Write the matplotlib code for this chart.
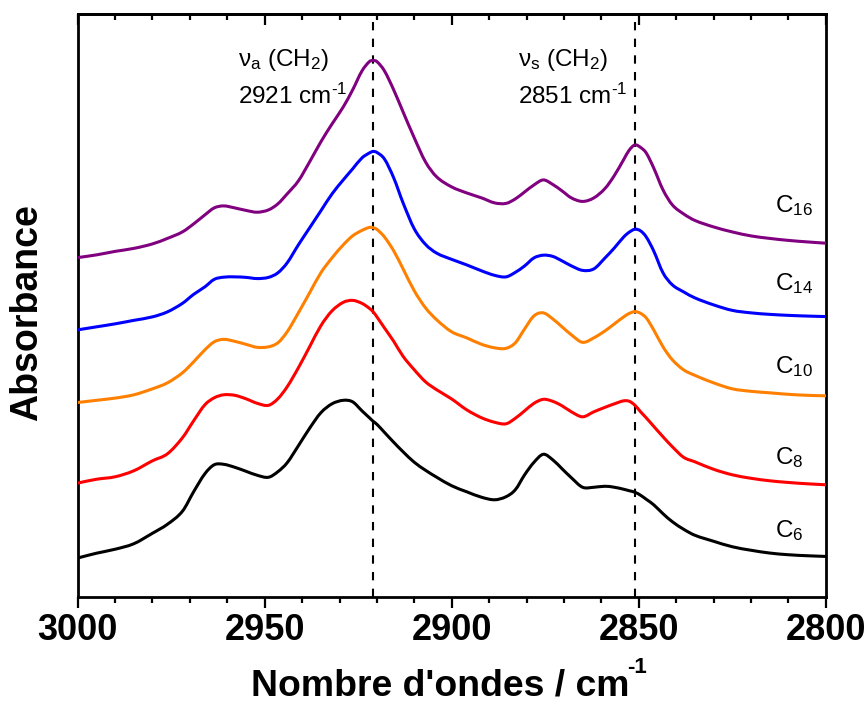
import matplotlib
matplotlib.use("Agg")
import numpy as np
import matplotlib.pyplot as plt
from matplotlib.path import Path
from matplotlib.patches import PathPatch
from matplotlib.ticker import MultipleLocator

plt.rcParams['font.family'] = ['Liberation Sans', 'DejaVu Sans']
plt.rcParams['mathtext.fontset'] = 'custom'
plt.rcParams['mathtext.rm'] = 'Liberation Sans'
plt.rcParams['mathtext.it'] = 'Liberation Sans:italic'
plt.rcParams['mathtext.bf'] = 'Liberation Sans:bold'

# Wavenumbers (cm-1) shared by all spectra
wavenumber = [3000, 2995, 2990, 2985, 2980, 2976, 2972, 2969, 2966, 2963.5,
              2961, 2958, 2955, 2952, 2949, 2946.5, 2944, 2941, 2938, 2935,
              2932, 2929, 2926.5, 2924, 2922, 2921, 2920, 2918, 2915.5, 2913,
              2910, 2907, 2904, 2900, 2896, 2892, 2888.5, 2885.5, 2883, 2880.5,
              2878, 2875.5, 2873, 2870.5, 2868, 2865, 2862, 2859, 2856.5, 2854,
              2852.5, 2851, 2849.5, 2848, 2846, 2843.5, 2841, 2838, 2835, 2830,
              2825, 2820, 2815, 2810, 2805, 2800]

# Stacked absorbance (a.u., vertically offset) for each chain length
abs_c16 = [3.393, 3.42, 3.455, 3.485, 3.53, 3.585, 3.65, 3.73, 3.82, 3.89,
           3.91, 3.89, 3.865, 3.847, 3.87, 3.93, 4.03, 4.16, 4.35, 4.55,
           4.73, 4.90, 5.07, 5.26, 5.354, 5.365, 5.354, 5.262, 5.07, 4.85,
           4.59, 4.35, 4.20, 4.10, 4.04, 3.99, 3.94, 3.935, 3.98, 4.05,
           4.12, 4.17, 4.125, 4.06, 3.99, 3.955, 3.99, 4.085, 4.215, 4.375,
           4.47, 4.52, 4.495, 4.44, 4.29, 4.07, 3.92, 3.83, 3.765, 3.70,
           3.65, 3.61, 3.585, 3.565, 3.55, 3.537]

abs_c14 = [2.67, 2.70, 2.73, 2.765, 2.80, 2.85, 2.935, 3.025, 3.10, 3.175,
           3.197, 3.20, 3.195, 3.183, 3.195, 3.24, 3.34, 3.52, 3.69, 3.86,
           4.03, 4.17, 4.28, 4.39, 4.44, 4.455, 4.445, 4.38, 4.19, 3.94,
           3.68, 3.525, 3.437, 3.375, 3.32, 3.26, 3.215, 3.20, 3.245, 3.31,
           3.39, 3.417, 3.405, 3.36, 3.31, 3.265, 3.28, 3.39, 3.49, 3.60,
           3.648, 3.677, 3.66, 3.60, 3.46, 3.24, 3.12, 3.05, 2.99, 2.92,
           2.865, 2.84, 2.825, 2.815, 2.808, 2.803]

abs_c10 = [1.943, 1.965, 1.987, 2.02, 2.08, 2.14, 2.24, 2.35, 2.47, 2.55,
           2.575, 2.555, 2.525, 2.495, 2.50, 2.54, 2.65, 2.84, 3.04, 3.24,
           3.39, 3.52, 3.61, 3.665, 3.695, 3.692, 3.675, 3.60, 3.46, 3.28,
           3.06, 2.89, 2.77, 2.65, 2.59, 2.525, 2.49, 2.485, 2.54, 2.68,
           2.81, 2.84, 2.78, 2.70, 2.62, 2.545, 2.59, 2.66, 2.73, 2.80,
           2.835, 2.853, 2.835, 2.79, 2.67, 2.50, 2.37, 2.27, 2.215, 2.14,
           2.08, 2.055, 2.04, 2.025, 2.015, 2.01]

abs_c8 = [1.137, 1.175, 1.20, 1.26, 1.36, 1.43, 1.59, 1.76, 1.92, 1.99,
          2.02, 2.015, 1.98, 1.935, 1.915, 1.98, 2.10, 2.29, 2.50, 2.71,
          2.86, 2.945, 2.965, 2.935, 2.885, 2.85, 2.80, 2.69, 2.555, 2.405,
          2.27, 2.15, 2.07, 1.978, 1.87, 1.79, 1.745, 1.73, 1.785, 1.86,
          1.935, 1.975, 1.955, 1.91, 1.85, 1.80, 1.85, 1.895, 1.93, 1.96,
          1.955, 1.915, 1.85, 1.79, 1.705, 1.60, 1.50, 1.395, 1.35, 1.275,
          1.22, 1.185, 1.16, 1.143, 1.13, 1.12]

abs_c6 = [0.387, 0.435, 0.475, 0.53, 0.635, 0.725, 0.855, 1.05, 1.23, 1.32,
          1.325, 1.295, 1.255, 1.215, 1.195, 1.25, 1.34, 1.51, 1.685, 1.84,
          1.93, 1.965, 1.95, 1.86, 1.79, 1.755, 1.725, 1.645, 1.545, 1.45,
          1.345, 1.265, 1.195, 1.11, 1.05, 0.995, 0.97, 1.00, 1.07, 1.22,
          1.345, 1.425, 1.37, 1.28, 1.19, 1.095, 1.095, 1.105, 1.095, 1.075,
          1.06, 1.045, 1.015, 0.975, 0.92, 0.83, 0.75, 0.675, 0.615, 0.555,
          0.50, 0.465, 0.437, 0.42, 0.41, 0.403]

series_names = ['C$_{6}$', 'C$_{8}$', 'C$_{10}$', 'C$_{14}$', 'C$_{16}$']
series_values = [abs_c6, abs_c8, abs_c10, abs_c14, abs_c16]
series_colors = ['#000000', '#FF0000', '#FF8000', '#0000FF', '#800080']
name_baselines = [0.597, 1.33, 2.237, 3.07, 3.853]

band_positions = [2921, 2851]
band_names = ['\u03bd$_{\\mathrm{a}}$ (CH$_{2}$)', '\u03bd$_{\\mathrm{s}}$ (CH$_{2}$)']
band_values = ['2921 cm$^{\\text{-1}}$', '2851 cm$^{\\text{-1}}$']


def smooth_path(x, y):
    """Spline-connected line (cubic Hermite segments) through the given points."""
    x = np.asarray(x, float)
    y = np.asarray(y, float)
    n = len(x)
    slope = np.empty(n)
    slope[1:-1] = (y[2:] - y[:-2]) / (x[2:] - x[:-2])
    slope[0] = (y[1] - y[0]) / (x[1] - x[0])
    slope[-1] = (y[-1] - y[-2]) / (x[-1] - x[-2])
    verts = [(x[0], y[0])]
    codes = [Path.MOVETO]
    for i in range(n - 1):
        h = x[i + 1] - x[i]
        verts += [(x[i] + h / 3, y[i] + slope[i] * h / 3),
                  (x[i + 1] - h / 3, y[i + 1] - slope[i + 1] * h / 3),
                  (x[i + 1], y[i + 1])]
        codes += [Path.CURVE4] * 3
    return Path(verts, codes)


fig = plt.figure(figsize=(8.68, 7.04), dpi=100)
ax = fig.add_axes([0.0895, 0.1524, 0.8618, 0.8277])

for values, color, name, base in zip(series_values, series_colors, series_names, name_baselines):
    ax.add_patch(PathPatch(smooth_path(wavenumber, values), facecolor='none',
                           edgecolor=color, lw=2.2, joinstyle='round',
                           capstyle='round', zorder=3))
    ax.text(2813.6, base, name, fontsize=17.5, ha='left', va='baseline', color='#000000')

for pos in band_positions:
    ax.axvline(pos, color='#000000', lw=1.5, ls=(0, (4, 4)), zorder=2)

for name, val, x_text in zip(band_names, band_values, [2957.1, 2882.3]):
    ax.text(x_text, 5.31, name, fontsize=17.5, ha='left', va='baseline')
    ax.text(x_text, 4.935, val, fontsize=17.5, ha='left', va='baseline')

ax.set_xlim(3000, 2800)
ax.set_ylim(0, 5.83)
ax.xaxis.set_major_locator(MultipleLocator(50))
ax.xaxis.set_minor_locator(MultipleLocator(10))
ax.set_yticks([])

for side in ['left', 'right', 'top', 'bottom']:
    ax.spines[side].set_linewidth(2.0)

ax.tick_params(axis='x', which='major', direction='out', length=8, width=1.6,
               labelsize=26, pad=4)
ax.tick_params(axis='x', which='minor', direction='out', length=4.5, width=1.6)
for lab in ax.get_xticklabels():
    lab.set_fontweight('bold')

# mirrored ticks on the top spine, pointing inward
top = ax.secondary_xaxis('top')
top.xaxis.set_major_locator(MultipleLocator(50))
top.xaxis.set_minor_locator(MultipleLocator(10))
top.tick_params(axis='x', which='major', direction='in', length=8, width=1.6, labeltop=False)
top.tick_params(axis='x', which='minor', direction='in', length=4.5, width=1.6)
top.spines['top'].set_linewidth(2.0)

# axis titles
fig.text(250.7 / 868, 1 - 695 / 704, "Nombre d'ondes / cm", fontsize=26.9,
         fontweight='bold', ha='left', va='baseline')
fig.text(627 / 868, 1 - 673 / 704, "-1", fontsize=16, fontweight='bold',
         ha='left', va='baseline')
fig.text(27 / 868, 1 - 312.5 / 704, 'Absorbance', fontsize=27, fontweight='bold',
         rotation=90, ha='center', va='center')

fig.savefig('out.png', dpi=100)
